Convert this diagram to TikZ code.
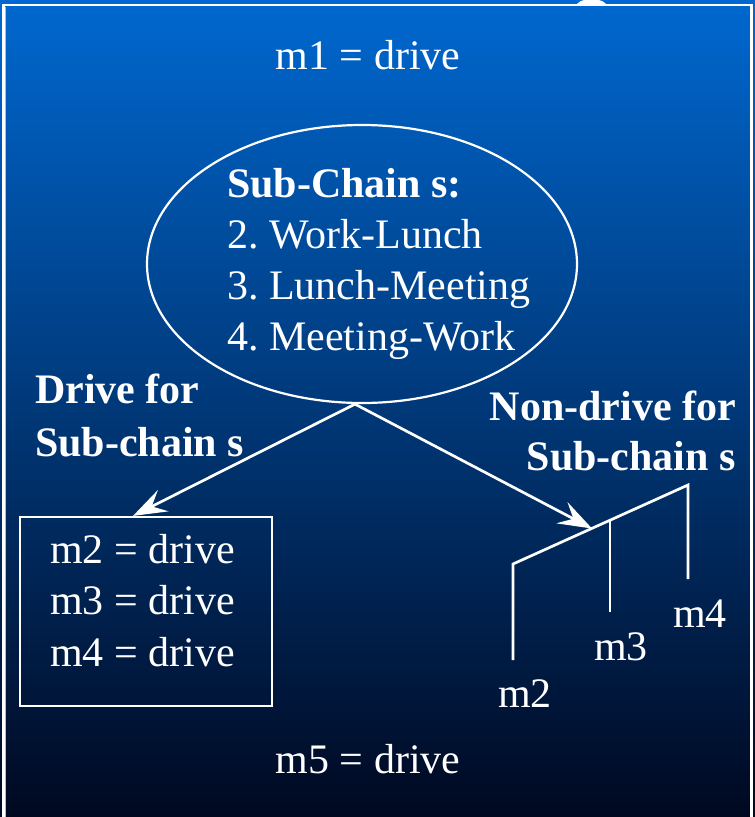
\documentclass[tikz,border=0pt]{standalone}
\usepackage{fontspec}
\setmainfont{Liberation Serif}
\usetikzlibrary{arrows.meta,shapes.geometric,calc}
\definecolor{bgtop}{RGB}{0,104,208}
\definecolor{bgmid}{RGB}{0,63,136}
\definecolor{bgbot}{RGB}{0,8,32}
\frenchspacing
\tikzset{
  txt/.style={text=white, inner sep=0pt, font=\fontsize{42}{51}\selectfont},
  wline/.style={draw=white, line width=2.7pt},
}
\newcommand{\myhead}[2]{%
  \path let \p1=($(#2)-(#1)$), \n1={atan2(\y1,\x1)} in
    [fill=white, shift={(#2)}, rotate=\n1] (0,0) -- (-34,12) -- (-21,0) -- (-34,-12) -- cycle;}
\begin{document}
\begin{tikzpicture}[x=1pt,y=-1pt]
\useasboundingbox (0,0) rectangle (755,817);
\shade[top color=bgtop, middle color=bgmid, bottom color=bgbot] (0,0) rectangle (755,817);
% frame
\draw[white, line width=2.5pt] (3.5,830) -- (3.5,5) -- (751.5,5) -- (751.5,830);
\draw[white!60!bgtop, line width=0.8pt] (5.6,830) -- (5.6,6.6);
\fill[white, rounded corners=2pt] (575,5.5) -- (582,0) -- (601,0) -- (608,5.5) -- cycle;

\node[txt, anchor=base] (m1) at (368,69) {m1 = drive};
\node[draw=white, line width=2.2pt, ellipse, minimum width=430pt, minimum height=278pt] (chain) at (362,264) {};
\node[txt, anchor=base west, align=left] (chaintxt) at (227,350)
  {\textbf{Sub-Chain s:}\\2. Work-Lunch\\3. Lunch-Meeting\\4. Meeting-Work};

\node[txt, anchor=base west, align=left, font=\fontsize{42}{53}\selectfont\bfseries] (drv) at (35,456) {Drive for\\Sub-chain s};
\node[txt, anchor=base east, align=right, font=\fontsize{42}{50}\selectfont\bfseries] (ndrv) at (736,470) {Non-drive for\\Sub-chain s};

\node[draw=white, line width=2.2pt, minimum width=252pt, minimum height=189pt, inner sep=0pt] (box) at (146,611.5) {};
\node[txt, anchor=base west, align=left, font=\fontsize{42}{51.5}\selectfont] (boxtxt) at (50,666) {m2 = drive\\m3 = drive\\m4 = drive};

% tree
\coordinate (t2) at (513,564);
\coordinate (t4) at (688,485);
\coordinate (t3) at (610,520);
\coordinate (tip) at (592,528.5);
\coordinate (b2) at (513,660);
\coordinate (b3) at (610,612);
\coordinate (b4) at (688,579);
\draw[wline] (b2) -- (t2) -- (t4) -- (b4);
\draw[wline] (t3) -- (b3);
\node[txt, anchor=base] (lm2) at (525,707) {m2};
\node[txt, anchor=base] (lm3) at (621,660) {m3};
\node[txt, anchor=base] (lm4) at (700,627) {m4};

\coordinate (start) at ($(chain.south)+(-7,0)$);
\coordinate (ltip) at ($(box.north)+(-13,0)$);
\draw[wline] (start) -- ($(ltip)!6pt!(start)$);
\draw[wline] (start) -- ($(tip)!6pt!(start)$);
\myhead{start}{ltip}
\myhead{start}{tip}

\node[txt, anchor=base] (m5) at (368,773) {m5 = drive};
\end{tikzpicture}
\end{document}
